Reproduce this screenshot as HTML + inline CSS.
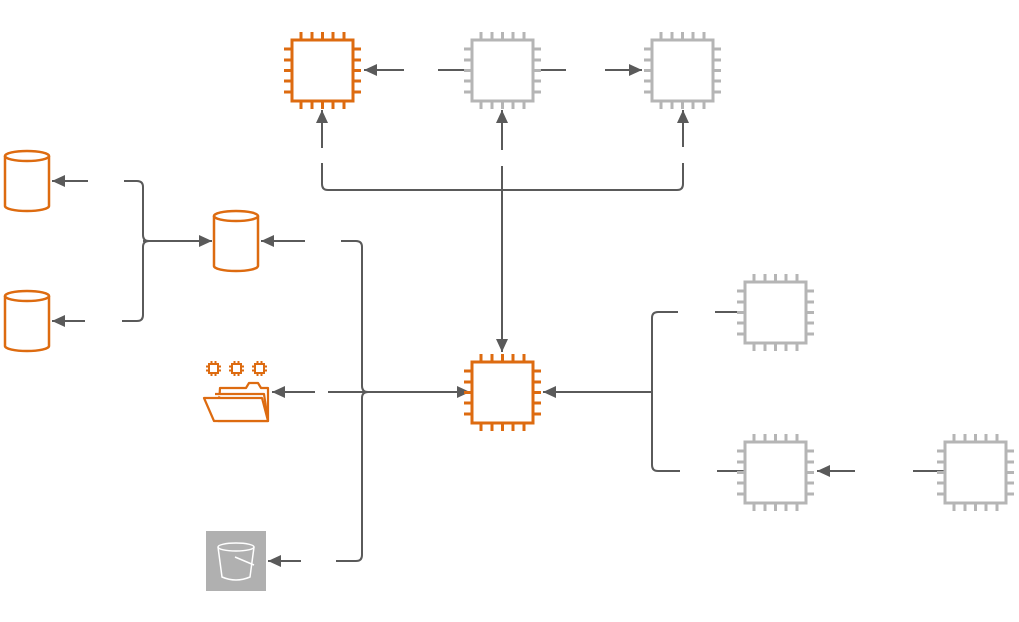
<!DOCTYPE html>
<html><head><meta charset="utf-8"><style>
html,body{margin:0;padding:0;background:#fff;}
svg{display:block;}
</style></head><body>
<svg id="s" width="1019" height="622" viewBox="0 0 1019 622" xmlns="http://www.w3.org/2000/svg">
<defs>
<marker id="a" markerWidth="14" markerHeight="13" refX="13" refY="6" orient="auto" markerUnits="userSpaceOnUse">
<path d="M0,0 L13,6 L0,12 Z" fill="#5a5a5a"/>
</marker>
</defs>
<g fill="none" stroke="#5a5a5a" stroke-width="2">
<line x1="404" y1="70" x2="364" y2="70" marker-end="url(#a)"/>
<line x1="438" y1="70" x2="472" y2="70"/>
<line x1="534" y1="70" x2="566" y2="70"/>
<line x1="605" y1="70" x2="642" y2="70" marker-end="url(#a)"/>
<line x1="322" y1="148" x2="322" y2="110" marker-end="url(#a)"/>
<line x1="502" y1="150" x2="502" y2="110" marker-end="url(#a)"/>
<line x1="683" y1="147" x2="683" y2="110" marker-end="url(#a)"/>
<path d="M322,163 V184 Q322,190 328,190 H677 Q683,190 683,184 V163"/>
<path d="M502,166 V352" marker-end="url(#a)"/>
<line x1="88" y1="181" x2="52" y2="181" marker-end="url(#a)"/>
<line x1="85" y1="321" x2="52" y2="321" marker-end="url(#a)"/>
<path d="M124,181 H137 Q143,181 143,187 V235 Q143,241 149,241"/>
<path d="M122,321 H137 Q143,321 143,315 V247 Q143,241 149,241"/>
<line x1="143" y1="241" x2="212" y2="241" marker-end="url(#a)"/>
<line x1="305" y1="241" x2="261" y2="241" marker-end="url(#a)"/>
<path d="M341,241 H356 Q362,241 362,247 V386 Q362,392 368,392"/>
<path d="M336,561 H356 Q362,561 362,555 V398 Q362,392 368,392"/>
<line x1="328" y1="392" x2="470" y2="392" marker-end="url(#a)"/>
<line x1="315" y1="392" x2="272" y2="392" marker-end="url(#a)"/>
<line x1="301" y1="561" x2="268" y2="561" marker-end="url(#a)"/>
<line x1="652" y1="392" x2="543" y2="392" marker-end="url(#a)"/>
<path d="M678,312 H658 Q652,312 652,318 V465 Q652,471 658,471 H680"/>
<line x1="715" y1="312" x2="745" y2="312"/>
<line x1="717" y1="471" x2="745" y2="471"/>
<line x1="855" y1="471" x2="817" y2="471" marker-end="url(#a)"/>
<line x1="913" y1="471" x2="945" y2="471"/>
</g>
<g fill="#fff" stroke="#dd6b10" stroke-width="2.5">
<path d="M5,156 V206 A22,5 0 0 0 49,206 V156"/><ellipse cx="27" cy="156" rx="22" ry="5"/>
<path d="M5,296 V346 A22,5 0 0 0 49,346 V296"/><ellipse cx="27" cy="296" rx="22" ry="5"/>
<path d="M214,216 V266 A22,5 0 0 0 258,266 V216"/><ellipse cx="236" cy="216" rx="22" ry="5"/>
</g>
<g fill="#fff" stroke="#dd6b10" stroke-width="2.2" stroke-linejoin="round">
<path d="M220,388 H246 L249,383 H258 L261,388 H268 V421 H218 Z"/>
<path d="M215,394 H264 L268,421"/>
<path d="M204,398 H262 L268,421 H214 Z"/>
</g>
<g id="mini" fill="none" stroke="#dd6b10" stroke-width="2"></g>
<rect x="206" y="531" width="60" height="60" fill="#b0b0b0"/>
<g fill="none" stroke="#fff" stroke-width="1.5">
<ellipse cx="236" cy="547" rx="18" ry="4"/>
<path d="M218,547 L222,577 Q236,583 250,577 L254,547"/>
<path d="M235,557 L254,565"/>
</g>
<g id="chips"></g>
</svg>
<script>
var g=document.getElementById('chips'),h='';
function chip(x,y,c){var s=61,o=[9,20,30.5,41,52],L=8;
h+='<g stroke="'+c+'" stroke-width="3" fill="#fff">';
o.forEach(function(d){h+='<line x1="'+(x+d)+'" y1="'+(y-L)+'" x2="'+(x+d)+'" y2="'+y+'"/>';
h+='<line x1="'+(x+d)+'" y1="'+(y+s)+'" x2="'+(x+d)+'" y2="'+(y+s+L)+'"/>';
h+='<line x1="'+(x-L)+'" y1="'+(y+d)+'" x2="'+x+'" y2="'+(y+d)+'"/>';
h+='<line x1="'+(x+s)+'" y1="'+(y+d)+'" x2="'+(x+s+L)+'" y2="'+(y+d)+'"/>';});
h+='<rect x="'+x+'" y="'+y+'" width="'+s+'" height="'+s+'"/></g>';}
var O='#dd6b10',G='#b5b5b5';
chip(292,40,O);chip(472,40,G);chip(652,40,G);chip(472,362,O);
chip(745,282,G);chip(745,442,G);chip(945,442,G);
g.innerHTML=h;
var m='';
[209,232,255].forEach(function(x){var y=364;
m+='<rect x="'+x+'" y="'+y+'" width="9" height="9"/>';
[2.5,6.5].forEach(function(d){
m+='<line x1="'+(x+d)+'" y1="'+(y-3)+'" x2="'+(x+d)+'" y2="'+y+'"/>';
m+='<line x1="'+(x+d)+'" y1="'+(y+9)+'" x2="'+(x+d)+'" y2="'+(y+12)+'"/>';
m+='<line x1="'+(x-3)+'" y1="'+(y+d)+'" x2="'+x+'" y2="'+(y+d)+'"/>';
m+='<line x1="'+(x+9)+'" y1="'+(y+d)+'" x2="'+(x+12)+'" y2="'+(y+d)+'"/>';});});
document.getElementById('mini').innerHTML=m;
</script>
</body></html>
